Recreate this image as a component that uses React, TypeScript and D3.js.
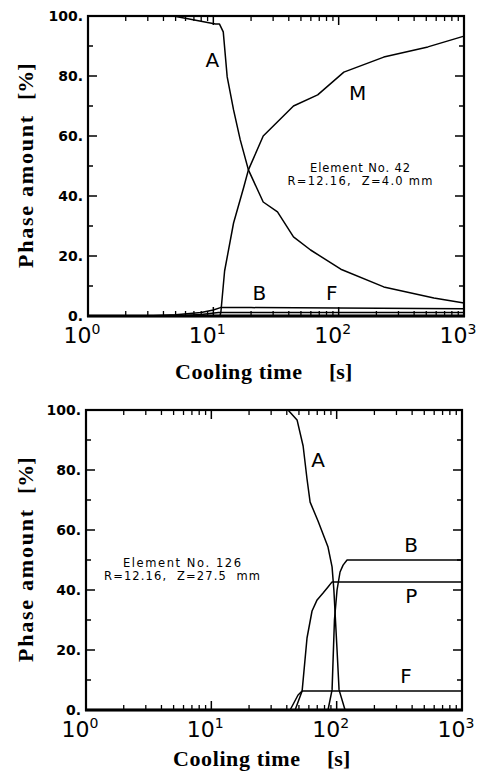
import React from "react";
import * as d3 from "d3";

// ---------- data ----------
const xDecades = [1, 10, 100, 1000];
const xExponents = ["0", "1", "2", "3"];
const yTicks = [0, 20, 40, 60, 80, 100];
const yTickLabels = ["0.", "20.", "40.", "60.", "80.", "100."];
const yMinorTicks = [10, 30, 50, 70, 90];

// Top chart: Element No. 42
const topA_t = [1, 4.8, 10.4, 11.2, 12.0, 12.9, 14.5, 16.4, 19.05, 25, 32.5, 43.6, 59.7, 104, 229, 575, 1000];
const topA_v = [100, 100, 97.3, 97.3, 94.7, 79.7, 68.7, 58.7, 48.7, 38, 34.7, 26.4, 22, 15.6, 9.7, 6, 4.3];
const topM_t = [1, 11.3, 11.5, 12.3, 14.5, 17.5, 19.05, 25, 43.6, 68, 110, 229, 515, 1000];
const topM_v = [0, 0, 1.5, 15, 31, 43, 48.7, 60, 70, 73.7, 81.3, 86.3, 89.7, 93.3];
const topB_t = [1, 3, 5, 8, 10, 11.4, 20, 1000];
const topB_v = [0, 0, 0.4, 1.2, 2, 2.8, 2.8, 2.4];
const topF_t = [1, 5, 8, 11, 1000];
const topF_v = [0, 0, 0.5, 1.2, 1.2];

// Bottom chart: Element No. 126
const botA_t = [1, 40.9, 48.3, 54, 58, 61.4, 71, 85.3, 91.9, 95, 100.7, 104.5, 116.7, 1000];
const botA_v = [100, 100, 96.7, 88, 77, 69.3, 63, 54.3, 47.7, 40, 20, 6.7, 0, 0];
const botB_t = [1, 85.3, 91.9, 96, 100.7, 106.4, 112.5, 121, 1000];
const botB_v = [0, 0, 6.7, 30, 40, 46, 48.3, 50, 50];
const botP_t = [1, 46.6, 53, 58, 63.6, 69.8, 77.9, 85.3, 91.9, 1000];
const botP_v = [0, 0, 6.3, 24, 33, 36.7, 39, 41, 42.7, 42.7];
const botF_t = [1, 42.5, 49.2, 53, 1000];
const botF_v = [0, 0, 5, 6.3, 6.3];

type Series = { t: number[]; v: number[] };
type Label = { text: string; t: number; v: number };

const topSeries: Series[] = [
  { t: topA_t, v: topA_v },
  { t: topM_t, v: topM_v },
  { t: topB_t, v: topB_v },
  { t: topF_t, v: topF_v },
];
const botSeries: Series[] = [
  { t: botA_t, v: botA_v },
  { t: botB_t, v: botB_v },
  { t: botP_t, v: botP_v },
  { t: botF_t, v: botF_v },
];

// curve letter positions (data coordinates)
const topLabels: Label[] = [
  { text: "A", t: 9.8, v: 83 },
  { text: "M", t: 142, v: 72 },
  { text: "B", t: 23.3, v: 5.3 },
  { text: "F", t: 88, v: 5.3 },
];
const botLabels: Label[] = [
  { text: "A", t: 71, v: 81 },
  { text: "B", t: 393, v: 52.7 },
  { text: "P", t: 393, v: 35.7 },
  { text: "F", t: 358, v: 9 },
];

const topNote = ["Element No. 42", "R=12.16,  Z=4.0 mm"];
const botNote = ["Element No. 126", "R=12.16,  Z=27.5  mm"];

const SANS = "'DejaVu Sans', Verdana, sans-serif";
const SERIF = "'Liberation Serif', 'Times New Roman', serif";

type Box = { left: number; right: number; top: number; bottom: number };

function Chart(props: {
  box: Box;
  series: Series[];
  labels: Label[];
  note: string[];
  noteX: number;
  noteY: number;
  noteWidths: number[];
  xTitleY: number;
}) {
  const { box, series, labels, note, noteX, noteY, noteWidths, xTitleY } = props;
  const x = d3.scaleLog().domain([1, 1000]).range([box.left, box.right]);
  const y = d3.scaleLinear().domain([0, 100]).range([box.bottom, box.top]);
  const line = d3
    .line<[number, number]>()
    .x((d) => x(d[0]))
    .y((d) => y(d[1]));

  const minorX: number[] = [];
  [1, 10, 100].forEach((d) => {
    for (let k = 2; k <= 9; k++) minorX.push(d * k);
  });

  const majLen = 9;
  const minLen = 5;

  return (
    <g>
      {/* series */}
      {series.map((s, i) => (
        <path
          key={i}
          d={line(s.t.map((t, j) => [t, s.v[j]] as [number, number])) || ""}
          fill="none"
          stroke="#000"
          strokeWidth={1.5}
          strokeLinejoin="round"
        />
      ))}

      {/* frame */}
      <rect
        x={box.left}
        y={box.top}
        width={box.right - box.left}
        height={box.bottom - box.top}
        fill="none"
        stroke="#000"
        strokeWidth={2.2}
      />
      <line x1={box.left - 1} x2={box.right + 1} y1={box.bottom} y2={box.bottom} stroke="#000" strokeWidth={3} />

      {/* x ticks */}
      {xDecades.map((t) => (
        <g key={"xm" + t}>
          <line x1={x(t)} x2={x(t)} y1={box.bottom} y2={box.bottom - majLen} stroke="#000" strokeWidth={1.5} />
          <line x1={x(t)} x2={x(t)} y1={box.top} y2={box.top + majLen} stroke="#000" strokeWidth={1.5} />
        </g>
      ))}
      {minorX.map((t) => (
        <g key={"xn" + t}>
          <line x1={x(t)} x2={x(t)} y1={box.bottom} y2={box.bottom - minLen} stroke="#000" strokeWidth={1.3} />
          <line x1={x(t)} x2={x(t)} y1={box.top} y2={box.top + minLen} stroke="#000" strokeWidth={1.3} />
        </g>
      ))}

      {/* y ticks */}
      {yTicks.map((v) => (
        <g key={"ym" + v}>
          <line x1={box.left} x2={box.left + majLen} y1={y(v)} y2={y(v)} stroke="#000" strokeWidth={1.5} />
          <line x1={box.right} x2={box.right - majLen} y1={y(v)} y2={y(v)} stroke="#000" strokeWidth={1.5} />
        </g>
      ))}
      {yMinorTicks.map((v) => (
        <g key={"yn" + v}>
          <line x1={box.left} x2={box.left + minLen} y1={y(v)} y2={y(v)} stroke="#000" strokeWidth={1.5} />
          <line x1={box.right} x2={box.right - minLen} y1={y(v)} y2={y(v)} stroke="#000" strokeWidth={1.5} />
        </g>
      ))}

      {/* y tick labels */}
      {yTicks.map((v, i) => (
        <text
          key={"yl" + v}
          x={box.left - 5}
          y={y(v) + 5}
          textAnchor="end"
          fontFamily={SANS}
          fontWeight="bold"
          fontSize={14}
        >
          {yTickLabels[i]}
        </text>
      ))}

      {/* x tick labels */}
      {xDecades.map((t, i) => (
        <text
          key={"xl" + t}
          x={x(t) - 6}
          y={box.bottom + 27}
          textAnchor="middle"
          fontFamily={SANS}
          fontSize={22}
        >
          10
          <tspan dy={-9} fontSize={14}>
            {xExponents[i]}
          </tspan>
        </text>
      ))}

      {/* axis titles */}
      <text x={box.left + 87} y={xTitleY} fontFamily={SERIF} fontWeight="bold" fontSize={22} textLength={127} lengthAdjust="spacing">
        Cooling time
      </text>
      <text x={box.left + 241} y={xTitleY} fontFamily={SERIF} fontWeight="bold" fontSize={22}>
        [s]
      </text>
      <g transform={`translate(33, ${box.top + 252}) rotate(-90)`}>
        <text x={0} y={0} fontFamily={SERIF} fontWeight="bold" fontSize={22} textLength={152} lengthAdjust="spacing">
          Phase amount
        </text>
        <text x={168} y={0} fontFamily={SERIF} fontWeight="bold" fontSize={22}>
          [%]
        </text>
      </g>

      {/* curve letters */}
      {labels.map((l, i) => (
        <text key={"cl" + i} x={x(l.t)} y={y(l.v)} textAnchor="middle" fontFamily={SANS} fontSize={20}>
          {l.text}
        </text>
      ))}

      {/* annotation */}
      {note.map((s, i) => (
        <text
          key={"n" + i}
          x={noteX}
          y={noteY + i * 13}
          textAnchor="middle"
          fontFamily={SANS}
          fontSize={11.5}
          textLength={noteWidths[i]}
          lengthAdjust="spacing"
          style={{ whiteSpace: "pre" }}
        >
          {s}
        </text>
      ))}
    </g>
  );
}

export default function App() {
  return (
    <svg
      width={484}
      height={781}
      viewBox="0 0 484 781"
      style={{ position: "absolute", left: 0, top: 0, background: "#fff" }}
    >
      <rect x={0} y={0} width={484} height={781} fill="#fff" />
      <Chart
        box={{ left: 88, right: 464, top: 16, bottom: 316 }}
        series={topSeries}
        labels={topLabels}
        note={topNote}
        noteX={360}
        noteY={172}
        noteWidths={[100, 145]}
        xTitleY={379}
      />
      <Chart
        box={{ left: 86, right: 462, top: 410, bottom: 710 }}
        series={botSeries}
        labels={botLabels}
        note={botNote}
        noteX={182}
        noteY={567}
        noteWidths={[118, 156]}
        xTitleY={766}
      />
    </svg>
  );
}
